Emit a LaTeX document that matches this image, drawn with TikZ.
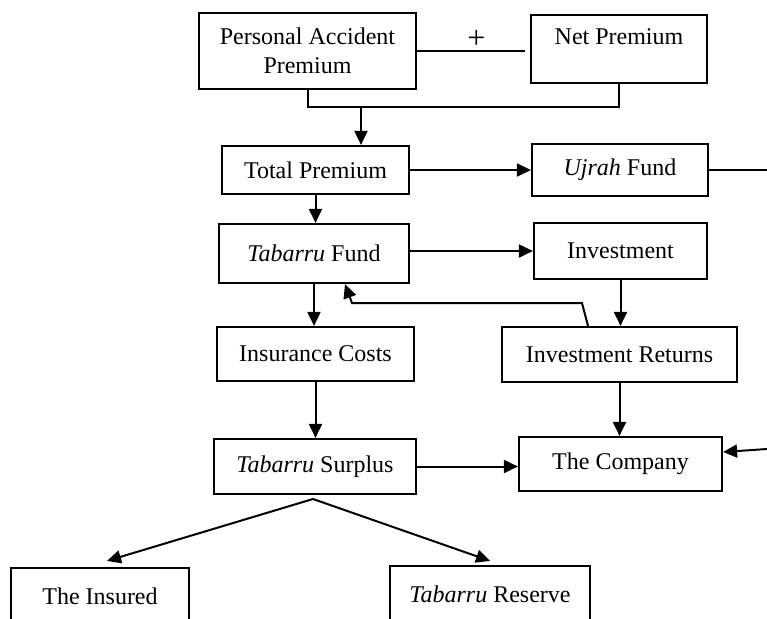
\documentclass[tikz,border=0pt]{standalone}
\usepackage{fontspec}
\setmainfont{Liberation Serif}
\usetikzlibrary{arrows.meta}
\tikzset{
  box/.style={draw, line width=1.1pt, align=center, inner sep=2pt},
  flow/.style={line width=1pt, -{Triangle[length=7pt,width=6.5pt]}},
  link/.style={line width=1pt}
}
\begin{document}
\begin{tikzpicture}[x=0.5pt, y=-0.5pt, font=\fontsize{12}{14.5}\selectfont]
      \useasboundingbox (0,0) rectangle (767,618);
      \clip (0,0) rectangle (767,618);
      \node[box, minimum width=108.5pt, minimum height=38pt] (pa) at (307.5,51) {Personal Accident\\Premium};
      \node[box, minimum width=88pt, minimum height=34pt] (net) at (619,49) {Net Premium\\[-6pt]\strut};
      \node[box, minimum width=93.5pt, minimum height=24pt] (tp) at (315.5,170) {Total Premium};
      \node[box, minimum width=88pt, minimum height=26pt] (ujrah) at (620,170) {\textit{Ujrah} Fund};
      \node[box, minimum width=95pt, minimum height=29.5pt] (tf) at (314,253.5) {\textit{Tabarru} Fund};
      \node[box, minimum width=86.5pt, minimum height=28pt] (inv) at (620.5,251) {Investment};
      \node[box, minimum width=98.5pt, minimum height=27pt] (ic) at (315.5,354) {Insurance Costs};
      \node[box, minimum width=117.5pt, minimum height=27.5pt] (ir) at (619.5,354.5) {Investment Returns};
      \node[box, minimum width=101pt, minimum height=27.5pt] (ts) at (315,466.5) {\textit{Tabarru} Surplus};
      \node[box, minimum width=101.5pt, minimum height=27pt] (comp) at (620.5,464) {The Company};
      \node[box, minimum width=89pt, minimum height=28pt] (ins) at (100,596) {The Insured};
      \node[box, minimum width=100pt, minimum height=28pt] (res) at (490,594) {\textit{Tabarru} Reserve};
      \coordinate (j) at (361,107);
      \coordinate (uout) at (767,170);
      \coordinate (cin) at (767,449);
      \coordinate (fbA) at (582,303);
      \coordinate (fbB) at (352,303);
      \coordinate (fork) at (313,499);
      \begin{scope}[link]
        \draw (pa.east) -- ([xshift=-2.5pt]net.west |- pa.east) node[pos=0.55, above, inner sep=1pt, font=\fontsize{16}{18}\selectfont] {+};
        \draw (pa.south) |- (j) -| (net.south);
        \draw (ujrah.east) -- (uout);
      \end{scope}
      \begin{scope}[flow]
        \draw (j) -- (j |- tp.north);
        \draw (tp.east) -- (ujrah.west);
        \draw (tp.south) -- (tp.south |- tf.north);
        \draw (tf.east |- inv) -- (inv.west);
        \draw (inv.south) -- (inv.south |- ir.north);
        \draw ([xshift=-15.75pt]ir.north) -- (fbA) -- (fbB) -- ([xshift=15.5pt]tf.south);
        \draw (tf.south) -- (tf.south |- ic.north);
        \draw (ic.south) -- (ic.south |- ts.north);
        \draw (ir.south) -- (ir.south |- comp.north);
        \draw (ts.east) -- (ts.east -| comp.west);
        \draw (cin) -- ([yshift=6pt]comp.east);
        \draw (fork) -- ([xshift=3.5pt,yshift=3pt]ins.north);
        \draw (fork) -- ([yshift=2pt]res.north);
      \end{scope}
    \end{tikzpicture}
\end{document}
